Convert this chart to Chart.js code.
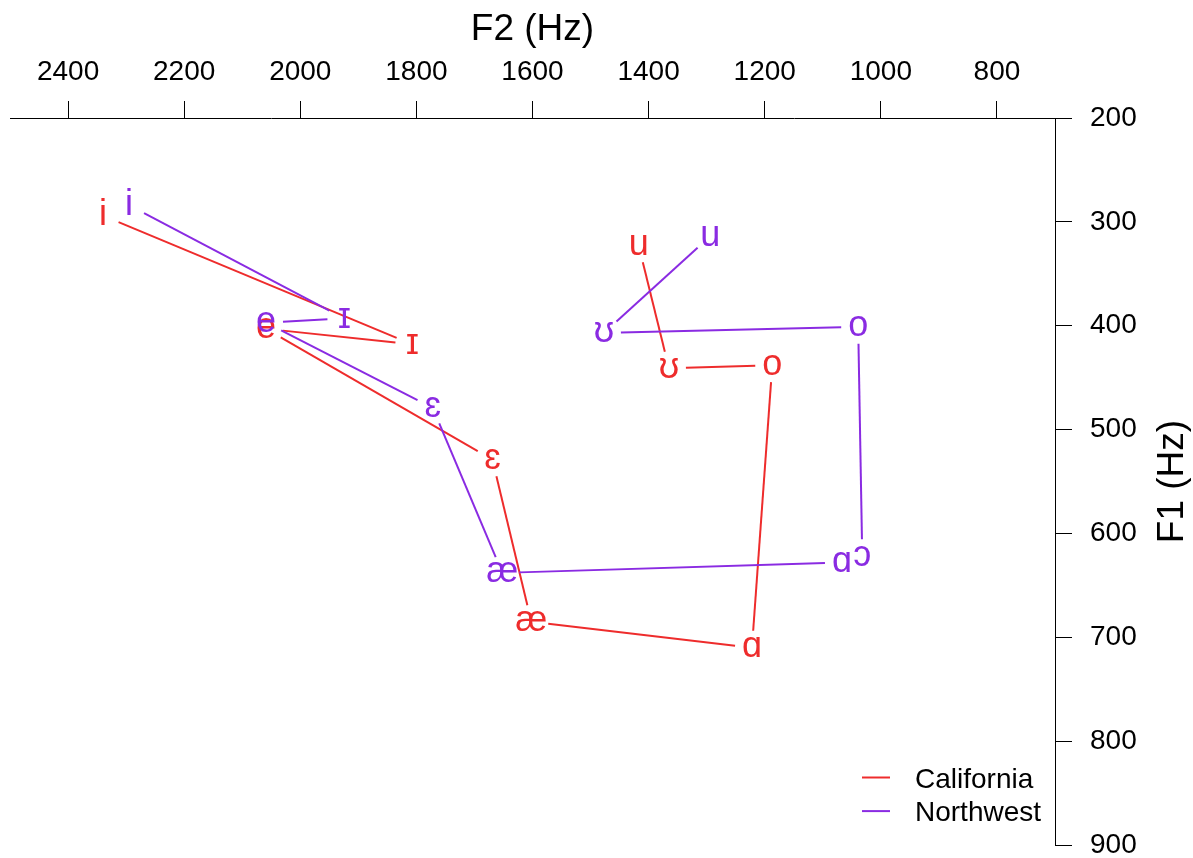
<!DOCTYPE html>
<html>
<head>
<meta charset="utf-8">
<script src="https://cdn.jsdelivr.net/npm/chart.js@4.4.1/dist/chart.umd.min.js"></script>
<style>
    html, body { margin: 0; padding: 0; background: #ffffff; }
    canvas { display: block; }
</style>
</head>
<body>
<canvas id="vowelChart" width="1193" height="858"></canvas>
<script>
const F2_Ticks = [2400, 2200, 2000, 1800, 1600, 1400, 1200, 1000, 800];
const F1_Ticks = [200, 300, 400, 500, 600, 700, 800, 900];

const California_Vowels = ['i', 'ɪ', 'e', 'ɛ', 'æ', 'ɑ', 'o', 'ʊ', 'u'];
const California_F2 = [2340, 1807, 2059, 1669, 1602, 1222, 1187, 1365, 1417];
const California_F1 = [294, 418, 403, 529, 685, 710, 438, 441, 323];

const Northwest_Vowels = ['i', 'ɪ', 'e', 'ɛ', 'æ', 'ɑ', 'ɔ', 'o', 'ʊ', 'u'];
const Northwest_F2 = [2295, 1924, 2059, 1772, 1652, 1067, 1032, 1039, 1477, 1294];
const Northwest_F1 = [284, 393, 397, 479, 638, 628, 622, 401, 407, 314];

const Series_Names = ['California', 'Northwest'];
const Series_Colors = ['#EE2C2C', '#8A2BE2'];

const Font_Family = '"Liberation Sans", Arial, "DejaVu Sans", sans-serif';
const Label_Size = 36;
const Line_Gap = 17;

function To_Points(F2, F1) {
    return F2.map((V, i) => ({ x: V, y: F1[i] }));
}

// draws the shortened connecting lines, the vowel symbols, the F1 title and the legend
const Vowel_Plot = {
    id: 'vowelPlot',
    afterDatasetsDraw(chart) {
        const Ctx = chart.ctx;
        const Area = chart.chartArea;

        chart.data.datasets.forEach((Ds, i) => {
            const Pts = chart.getDatasetMeta(i).data;
            Ctx.save();
            Ctx.strokeStyle = Ds.borderColor;
            Ctx.lineWidth = 2;
            for (let k = 0; k < Pts.length - 1; k++) {
                const A = Pts[k], B = Pts[k + 1];
                const Dx = B.x - A.x, Dy = B.y - A.y;
                const Len = Math.hypot(Dx, Dy);
                if (Len <= 2 * Line_Gap) continue;
                const Ux = Dx / Len, Uy = Dy / Len;
                Ctx.beginPath();
                Ctx.moveTo(A.x + Ux * Line_Gap, A.y + Uy * Line_Gap);
                Ctx.lineTo(B.x - Ux * Line_Gap, B.y - Uy * Line_Gap);
                Ctx.stroke();
            }
            Ctx.fillStyle = Ds.borderColor;
            Ctx.font = `${Label_Size}px ${Font_Family}`;
            Ctx.textAlign = 'center';
            Ctx.textBaseline = 'alphabetic';
            Pts.forEach((P, k) => {
                Ctx.fillText(Ds.vowels[k], P.x, P.y + 0.26 * Label_Size);
            });
            Ctx.restore();
        });

        // F1 axis title, reading bottom to top
        Ctx.save();
        Ctx.translate(Area.right + 128, (Area.top + Area.bottom) / 2);
        Ctx.rotate(-Math.PI / 2);
        Ctx.fillStyle = '#000000';
        Ctx.font = `37px ${Font_Family}`;
        Ctx.textAlign = 'center';
        Ctx.textBaseline = 'alphabetic';
        Ctx.fillText('F1 (Hz)', 0, 0);
        Ctx.restore();

        // legend
        Ctx.save();
        Ctx.font = `28px ${Font_Family}`;
        Ctx.textAlign = 'left';
        Ctx.textBaseline = 'alphabetic';
        chart.data.datasets.forEach((Ds, i) => {
            const Y = Area.bottom - 67.5 + i * 33.6;
            Ctx.strokeStyle = Ds.borderColor;
            Ctx.lineWidth = 2;
            Ctx.beginPath();
            Ctx.moveTo(Area.right - 193, Y);
            Ctx.lineTo(Area.right - 165, Y);
            Ctx.stroke();
            Ctx.fillStyle = '#000000';
            Ctx.fillText(Ds.label, Area.right - 140, Y + 10);
        });
        Ctx.restore();
    }
};

const Axis_Grid = { drawOnChartArea: false, drawTicks: true, tickLength: 17, color: '#000000', lineWidth: 1 };
const Axis_Border = { display: true, color: '#000000', width: 1 };

const Vowel_Chart = new Chart(document.getElementById('vowelChart').getContext('2d'), {
    type: 'scatter',
    data: {
        datasets: [
            { label: Series_Names[0], data: To_Points(California_F2, California_F1), vowels: California_Vowels,
              borderColor: Series_Colors[0], backgroundColor: Series_Colors[0], pointRadius: 0, showLine: false },
            { label: Series_Names[1], data: To_Points(Northwest_F2, Northwest_F1), vowels: Northwest_Vowels,
              borderColor: Series_Colors[1], backgroundColor: Series_Colors[1], pointRadius: 0, showLine: false }
        ]
    },
    options: {
        responsive: false,
        animation: false,
        devicePixelRatio: 1,
        layout: { padding: { left: 10, top: 0, right: 0, bottom: 13 } },
        scales: {
            x: {
                type: 'linear', position: 'top', reverse: true, min: 700, max: 2500,
                afterBuildTicks: Scale => { Scale.ticks = F2_Ticks.map(V => ({ value: V })); },
                afterFit: Scale => {
                    Scale.height = 118;
                    Scale.paddingLeft = 0;
                    Scale.paddingRight = 0;
                },
                grid: Axis_Grid,
                border: Axis_Border,
                ticks: { color: '#000000', font: { family: Font_Family, size: 28 }, padding: 12,
                         maxRotation: 0, autoSkip: false, callback: V => String(V) },
                title: { display: true, text: 'F2 (Hz)', color: '#000000',
                         font: { family: Font_Family, size: 37 }, padding: { top: 8, bottom: 0 } }
            },
            y: {
                type: 'linear', position: 'right', reverse: true, min: 200, max: 900,
                afterBuildTicks: Scale => { Scale.ticks = F1_Ticks.map(V => ({ value: V })); },
                afterFit: Scale => {
                    Scale.width = 138;
                    Scale.paddingTop = 0;
                    Scale.paddingBottom = 0;
                },
                grid: Axis_Grid,
                border: Axis_Border,
                ticks: { color: '#000000', font: { family: Font_Family, size: 28 }, padding: 18,
                         autoSkip: false, callback: V => String(V) }
            }
        },
        plugins: {
            legend: { display: false },
            tooltip: { enabled: false }
        }
    },
    plugins: [Vowel_Plot]
});
</script>
</body>
</html>
